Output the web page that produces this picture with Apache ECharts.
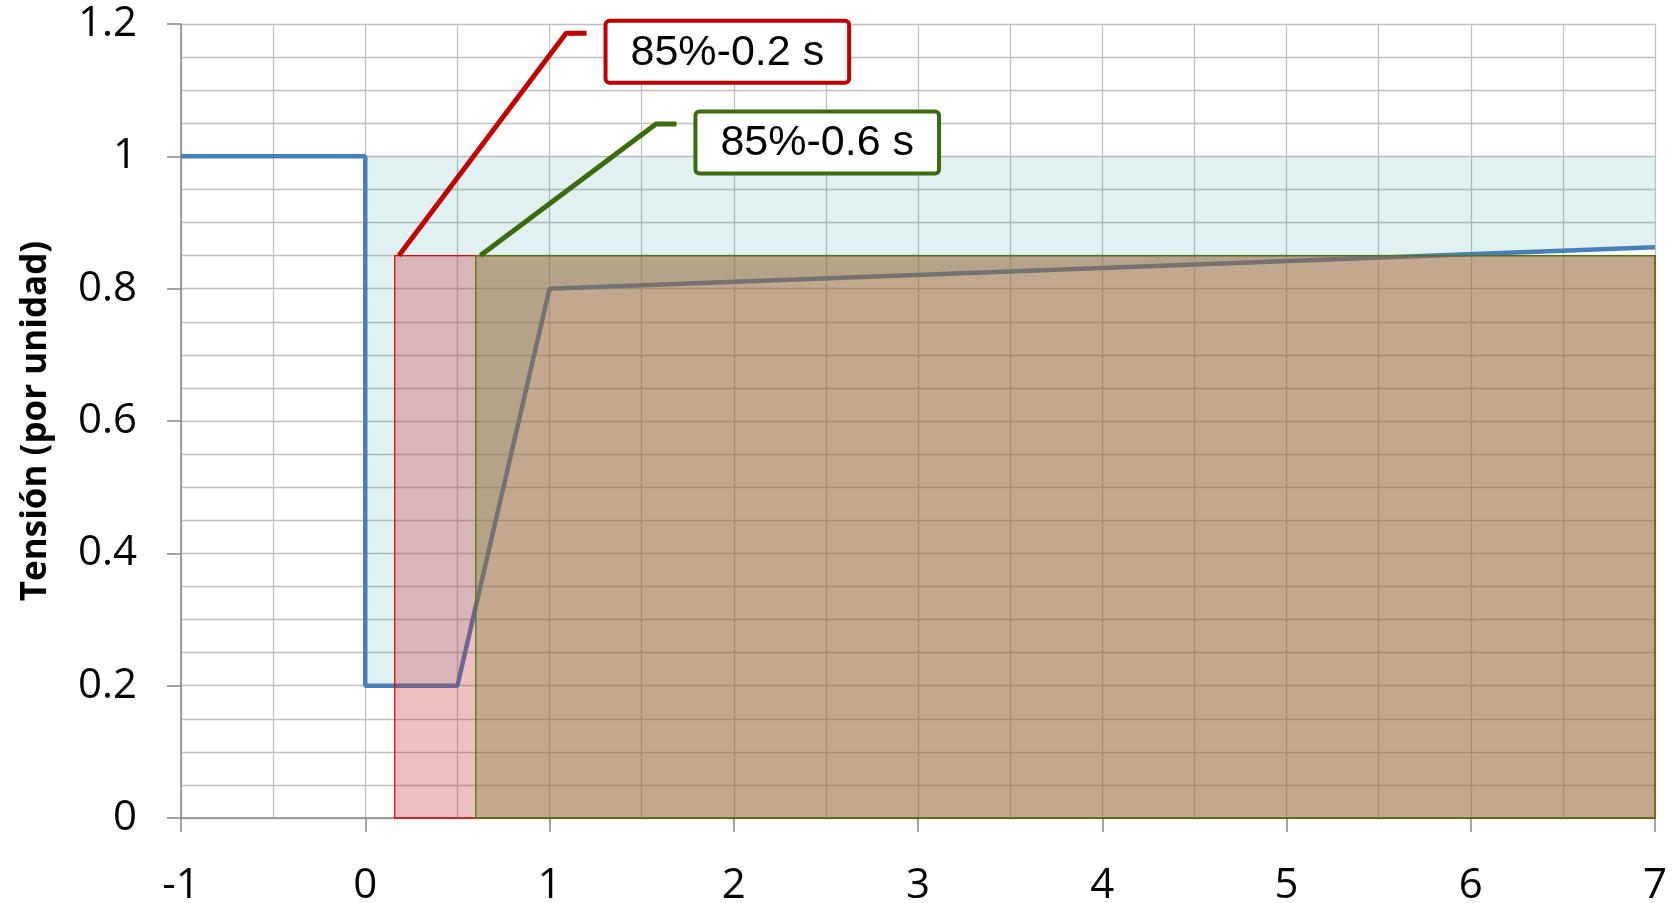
<!DOCTYPE html>
<html>
<head>
<meta charset="utf-8">
<script src="https://cdn.jsdelivr.net/npm/echarts@6/dist/echarts.min.js"></script>
<style>
html,body{margin:0;padding:0;background:#fff;}
#chart{width:1678px;height:903px;}
</style>
</head>
<body>
<div id="chart"></div>
<script>
// ---- data ----
const timeS = [-1, 0, 0, 0.5, 1, 7];
const voltagePU = [1, 1, 0.2, 0.2, 0.8, 0.8625];
const upperLimit = 1;
const zoneLabels = ['85%-0.2 s', '85%-0.6 s'];
const zoneStart = [0.16, 0.6];
const zoneEnd = [7, 7];
const zoneLevel = [0.85, 0.85];
const leaderRedX = [0.183, 1.09, 1.201];
const leaderRedY = [0.85, 1.186, 1.186];
const leaderGreenX = [0.625, 1.578, 1.689];
const leaderGreenY = [0.85, 1.0487, 1.0487];
const yAxisTitle = 'Tensión (por unidad)';

const zoneColors = ['#C00000', '#3A6B0C'];
const zoneFills = ['rgba(195,42,48,0.30)', 'rgba(127,134,70,0.40)'];
const zoneBorders = ['#D01010', '#4A7A10'];

const linePts = timeS.map((t, i) => [t, voltagePU[i]]);
// polygon between the voltage curve and upper limit, from t = 0
const curveFrom0 = linePts.filter((p, i) => p[0] >= 0 && !(p[0] === 0 && p[1] === upperLimit));
const cyanPoly = [[0, upperLimit], [timeS[timeS.length - 1], upperLimit]]
  .concat(curveFrom0.slice().reverse());

const chart = echarts.init(document.getElementById('chart'), null, {renderer: 'canvas'});
const font = '"Open Sans", "Noto Sans", sans-serif';

const option = {
  animation: false,
  backgroundColor: '#ffffff',
  grid: {left: 181, right: 23, top: 24, bottom: 85, containLabel: false, outerBoundsMode: 'none'},
  xAxis: {
    type: 'value', min: -1, max: 7, interval: 1,
    axisLine: {show: true, onZero: true, lineStyle: {color: '#868686', width: 1.5}},
    axisTick: {show: true, length: 14, lineStyle: {color: '#868686', width: 1.5}},
    axisLabel: {fontFamily: font, fontSize: 42, color: '#000', margin: 47},
    splitLine: {show: true, lineStyle: {color: '#C0C0C0', width: 1.3}},
    minorTick: {show: true, splitNumber: 2, length: 0},
    minorSplitLine: {show: true, lineStyle: {color: '#C0C0C0', width: 1.3}}
  },
  yAxis: {
    type: 'value', min: 0, max: 1.2, interval: 0.2,
    name: yAxisTitle, nameLocation: 'middle', nameRotate: 90, nameGap: 127,
    nameTextStyle: {fontFamily: font, fontSize: 35, fontWeight: 'bold', color: '#000'},
    axisLine: {show: true, onZero: false, lineStyle: {color: '#868686', width: 1.5}},
    axisTick: {show: true, length: 14, lineStyle: {color: '#868686', width: 1.5}},
    axisLabel: {fontFamily: font, fontSize: 42, color: '#000', margin: 44},
    splitLine: {show: true, lineStyle: {color: '#C0C0C0', width: 1.3}},
    minorTick: {show: true, splitNumber: 4, length: 0},
    minorSplitLine: {show: true, lineStyle: {color: '#C0C0C0', width: 1.3}}
  },
  series: [
    {
      type: 'custom', name: 'cyan', z: 1,
      data: [[0, upperLimit]],
      renderItem: function (params, api) {
        return {
          type: 'polygon',
          shape: {points: cyanPoly.map(p => api.coord(p))},
          style: {fill: 'rgba(80,170,170,0.17)', stroke: null}
        };
      },
      silent: true
    },
    {
      type: 'line', name: 'tension', z: 2,
      data: linePts, showSymbol: false, symbol: 'none',
      lineStyle: {color: '#4A7EBB', width: 4.5},
      clip: true
    },
    {
      type: 'custom', name: 'zones', z: 3,
      data: zoneStart.map((s, i) => [s, zoneLevel[i], zoneEnd[i], i]),
      renderItem: function (params, api) {
        const i = api.value(3);
        const p0 = api.coord([api.value(0), api.value(1)]);
        const p1 = api.coord([api.value(2), 0]);
        return {
          type: 'rect',
          shape: {x: p0[0], y: p0[1], width: p1[0] - p0[0], height: p1[1] - p0[1]},
          style: {fill: zoneFills[i], stroke: zoneBorders[i], lineWidth: 1.3}
        };
      },
      silent: true
    },
    {
      type: 'line', name: 'leaderRed', z: 4,
      data: leaderRedX.map((x, i) => [x, leaderRedY[i]]),
      showSymbol: false, symbol: 'none',
      lineStyle: {color: zoneColors[0], width: 5}
    },
    {
      type: 'line', name: 'leaderGreen', z: 4,
      data: leaderGreenX.map((x, i) => [x, leaderGreenY[i]]),
      showSymbol: false, symbol: 'none',
      lineStyle: {color: zoneColors[1], width: 5}
    },
    {
      type: 'scatter', name: 'labels', z: 5,
      symbolSize: 2,
      itemStyle: {color: 'transparent'},
      data: [
        {value: [leaderRedX[2], leaderRedY[2]], label: {borderColor: zoneColors[0]}},
        {value: [leaderGreenX[2], leaderGreenY[2]], label: {borderColor: zoneColors[1]}}
      ],
      label: {
        show: true,
        position: [22, -9.5],
        formatter: p => zoneLabels[p.dataIndex],
        fontFamily: '"Liberation Sans", Arial, sans-serif',
        fontSize: 43, color: '#000000', textBorderWidth: 0, opacity: 1,
        backgroundColor: '#fff', borderWidth: 4, borderRadius: 2,
        padding: [5, 23, 3, 23], lineHeight: 50
      },
      silent: true
    }
  ]
};
chart.setOption(option);
</script>
</body>
</html>
